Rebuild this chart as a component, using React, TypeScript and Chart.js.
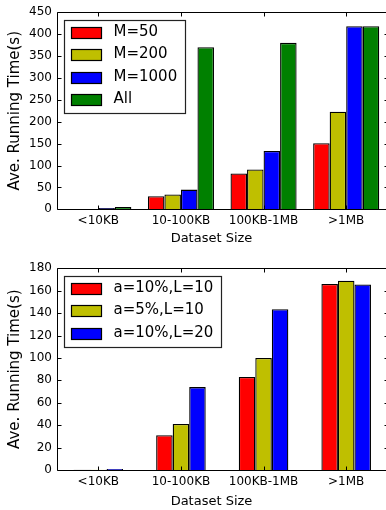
import React, { useEffect, useRef } from 'react';
import { Chart, registerables } from 'chart.js';

Chart.register(...registerables);

const categories = ['<10KB', '10-100KB', '100KB-1MB', '>1MB'];
const xTitle = 'Dataset Size';
const yTitle = 'Ave. Running Time(s)';

const topSeriesLabels = ['M=50', 'M=200', 'M=1000', 'All'];
const topM50 = [0.3, 30, 82, 151];
const topM200 = [0.5, 34, 91, 223];
const topM1000 = [3, 45, 133, 418];
const topAll = [5, 370, 380, 418];
const topYMax = 450;
const topYStep = 50;

const bottomSeriesLabels = ['a=10%,L=10', 'a=5%,L=10', 'a=10%,L=20'];
const botA10L10 = [0.2, 31, 83, 166];
const botA5L10 = [0.3, 41, 100, 169];
const botA10L20 = [0.8, 74, 143.5, 165.5];
const bottomYMax = 180;
const bottomYStep = 20;

const seriesColors = ['#ff0000', '#bfbf00', '#0000ff', '#008000'];

const FONT = '"DejaVu Sans", "Liberation Sans", sans-serif';
const CW = 392;
const CH = 255;

type Layout = {
  padTop: number;
  xHeight: number;
  titleY: number;
  legendTop: number;
  catPct: number;
};

function makePlugin(layout: Layout) {
  return {
    id: 'frameLegend',
    afterDatasetsDraw(chart: any) {
      const { ctx, chartArea } = chart;
      const { left, right, top, bottom } = chartArea;
      const x = chart.scales.x;
      const y = chart.scales.y;
      ctx.save();
      ctx.strokeStyle = '#000';
      ctx.lineWidth = 1;
      const L = Math.round(left) + 0.5;
      const R = Math.round(right) + 0.5;
      const T = Math.round(top) + 0.5;
      const B = Math.round(bottom) + 0.5;
      ctx.beginPath();
      ctx.rect(L, T, R - L, B - T);
      y.ticks.forEach((_t: any, i: number) => {
        const py = Math.round(y.getPixelForTick(i)) + 0.5;
        ctx.moveTo(L, py);
        ctx.lineTo(L + 4, py);
        ctx.moveTo(R, py);
        ctx.lineTo(R - 4, py);
      });
      x.ticks.forEach((_t: any, i: number) => {
        const px = Math.round(x.getPixelForTick(i)) + 0.5;
        ctx.moveTo(px, B);
        ctx.lineTo(px, B - 4);
        ctx.moveTo(px, T);
        ctx.lineTo(px, T + 4);
      });
      ctx.stroke();

      // x axis title
      ctx.font = `13px ${FONT}`;
      ctx.fillStyle = '#000';
      ctx.textAlign = 'center';
      ctx.textBaseline = 'middle';
      ctx.fillText(xTitle, left + 154.5, layout.titleY);

      // legend
      const ds = chart.data.datasets;
      ctx.font = `15px ${FONT}`;
      const maxW = Math.max(...ds.map((d: any) => ctx.measureText(d.label).width));
      const bx = Math.round(left + 7) + 0.5;
      const by = Math.round(top + layout.legendTop) + 0.5;
      const rowH = 22.4;
      const bh = Math.round(11.7 + (ds.length - 1) * rowH + 14);
      const bw = Math.round(49 + maxW + 8);
      ctx.fillStyle = '#fff';
      ctx.fillRect(bx, by, bw, bh);
      ctx.strokeStyle = '#222';
      ctx.lineWidth = 1.2;
      ctx.strokeRect(bx, by, bw, bh);
      ds.forEach((d: any, i: number) => {
        const cy = by + 11.7 + i * rowH;
        ctx.fillStyle = d.backgroundColor;
        ctx.fillRect(bx + 7, Math.round(cy - 5.5), 30, 11);
        ctx.strokeStyle = '#000';
        ctx.lineWidth = 1.2;
        ctx.strokeRect(bx + 7, Math.round(cy - 5.5) + 0.5, 30, 11);
        ctx.fillStyle = '#000';
        ctx.textBaseline = 'middle';
        ctx.textAlign = 'left';
        ctx.fillText(d.label, bx + 49, cy);
      });
      ctx.restore();
    },
  };
}

function makeConfig(labels: string[], series: number[][], yMax: number, yStep: number, layout: Layout): any {
  return {
    type: 'bar',
    data: {
      labels: categories,
      datasets: series.map((vals, i) => ({
        label: labels[i],
        data: vals,
        backgroundColor: seriesColors[i],
        borderColor: '#000',
        borderWidth: 1.3,
        categoryPercentage: layout.catPct,
        barPercentage: 1,
      })),
    },
    options: {
      responsive: false,
      animation: false,
      layout: { padding: { top: layout.padTop, right: 4.5, left: 0, bottom: 0 } },
      plugins: { legend: { display: false }, tooltip: { enabled: false } },
      scales: {
        x: {
          grid: { display: false, drawTicks: false },
          border: { display: false },
          ticks: { color: '#000', font: { family: FONT, size: 12 }, padding: 4.5, maxRotation: 0, autoSkip: false },
          title: { display: false },
          afterFit(scale: any) {
            scale.height = layout.xHeight;
          },
        },
        y: {
          min: 0,
          max: yMax,
          grid: { display: false, drawTicks: false },
          border: { display: false },
          ticks: { stepSize: yStep, color: '#000', font: { family: FONT, size: 12 }, padding: 5 },
          title: {
            display: true,
            text: yTitle,
            color: '#000',
            font: { family: FONT, size: 15 },
            padding: { top: 6, bottom: 0 },
          },
          afterFit(scale: any) {
            scale.width = 57;
          },
        },
      },
    },
    plugins: [makePlugin(layout)],
  };
}

const topLayout: Layout = { padTop: 6, xHeight: 45.7, titleY: 238.7, legendTop: 8, catPct: 0.8 };
const bottomLayout: Layout = { padTop: 13.3, xHeight: 40, titleY: 247, legendTop: 7.5, catPct: 0.6 };

export default function App() {
  const topRef = useRef<HTMLCanvasElement>(null);
  const botRef = useRef<HTMLCanvasElement>(null);

  useEffect(() => {
    const c1 = new Chart(
      topRef.current as HTMLCanvasElement,
      makeConfig(topSeriesLabels, [topM50, topM200, topM1000, topAll], topYMax, topYStep, topLayout)
    );
    const c2 = new Chart(
      botRef.current as HTMLCanvasElement,
      makeConfig(bottomSeriesLabels, [botA10L10, botA5L10, botA10L20], bottomYMax, bottomYStep, bottomLayout)
    );
    return () => {
      c1.destroy();
      c2.destroy();
    };
  }, []);

  return (
    <div
      style={{
        position: 'absolute',
        left: 0,
        top: 0,
        width: 386,
        height: 510,
        overflow: 'hidden',
        background: '#fff',
      }}
    >
      <canvas ref={topRef} width={CW} height={CH} style={{ display: 'block', width: CW, height: CH }} />
      <canvas ref={botRef} width={CW} height={CH} style={{ display: 'block', width: CW, height: CH }} />
    </div>
  );
}
